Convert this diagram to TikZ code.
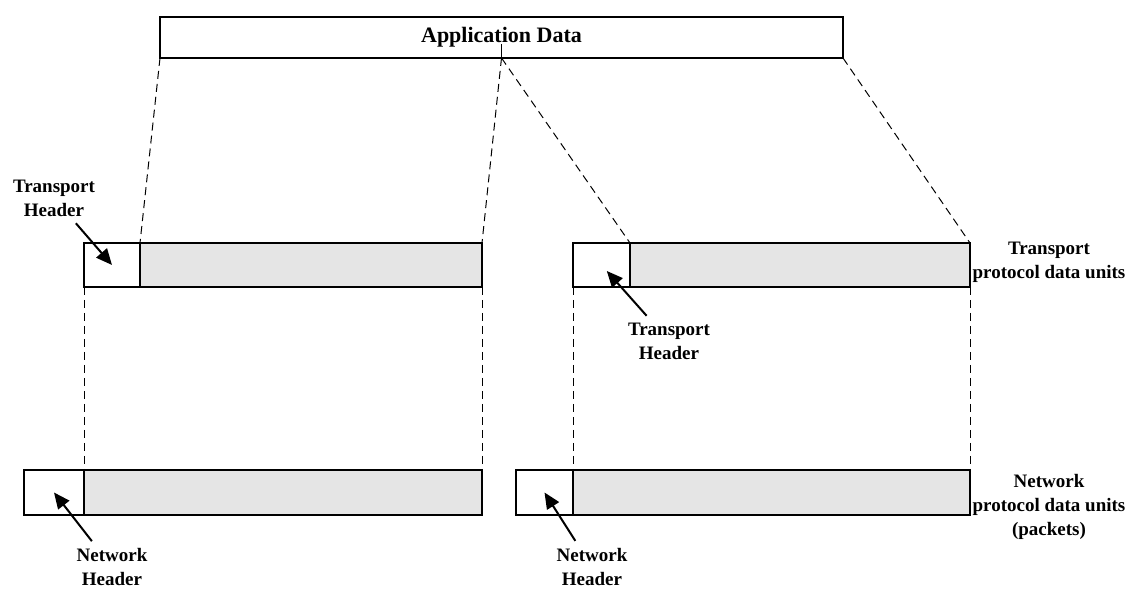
\documentclass[tikz,border=0pt]{standalone}
\usepackage{fontspec}
\setmainfont{Liberation Serif}
\usetikzlibrary{arrows.meta, positioning}

\begin{document}
\begin{tikzpicture}[
 x=0.5pt, y=0.5pt,
 pdu/.style={draw, line width=1.2pt, inner sep=0pt, outer sep=0pt, minimum height=22pt},
 hdr/.style={pdu, fill=white},
 payload/.style={pdu, fill=black!10},
 lbl/.style={font=\bfseries\fontsize{9.5}{12}\selectfont, align=center, inner sep=1pt},
 guide/.style={line width=0.5pt, dash pattern=on 4pt off 2.5pt},
 arrow/.style={line width=1pt, -{Triangle[length=8pt,width=7pt]}},
 ]
 \useasboundingbox (0,0) rectangle (1132,590);

 \node[pdu, minimum width=341.5pt, minimum height=20.5pt,
  font=\bfseries\fontsize{11}{13}\selectfont] (app) at (501.5,552.5) {Application Data};
 \coordinate (split) at (app.south);

 % transport PDUs
 \node[hdr, minimum width=28pt] (th1) at (112,325) {};
 \node[payload, minimum width=171pt, right=0pt of th1] (td1) {};
 \node[hdr, minimum width=28.5pt] (th2) at (601.5,325) {};
 \node[payload, minimum width=170pt, right=0pt of th2] (td2) {};

 % network PDUs
 \node[hdr, minimum width=30pt, minimum height=22.5pt,
  below left=91.5pt and 0pt of th1.south west] (nh1) {};
 \node[payload, minimum width=199pt, minimum height=22.5pt, right=0pt of nh1] (nd1) {};
 \node[hdr, minimum width=28.5pt, minimum height=22.5pt,
  below left=91.5pt and 0pt of th2.south west] (nh2) {};
 \node[payload, minimum width=198.5pt, minimum height=22.5pt, right=0pt of nh2] (nd2) {};

 \node[lbl] (thlab1) at (54,392) {Transport\\Header};
 \node[lbl] (thlab2) at (669,249) {Transport\\Header};
 \node[lbl] (nhlab1) at (112,23) {Network\\Header};
 \node[lbl] (nhlab2) at (592,23) {Network\\Header};
 \node[lbl, align=center] (tlab) at (1049,328) {Transport\\protocol data units};
 \node[lbl, align=center] (nlab) at (1049,83) {Network\\protocol data units\\(packets)};

 \draw[guide] (app.south west) -- (td1.north west);
 \draw[guide] (split) -- (td1.north east);
 \draw[guide] (split) -- (td2.north west);
 \draw[guide] (app.south east) -- (td2.north east);
 \draw[line width=0.6pt] (split) -- ++(0,14);

 \draw[guide] (th1.south west) -- (nd1.north west);
 \draw[guide] (td1.south east) -- (nd1.north east);
 \draw[guide] (th2.south west) -- (nd2.north west);
 \draw[guide] (td2.south east) -- (nd2.north east);

 \draw[arrow, shorten <=3pt] (thlab1) -- (th1.center);
 \draw[arrow, shorten <=3pt, shorten >=4pt] (thlab2) -- (th2.center);
 \draw[arrow, shorten <=3pt] (nhlab1) -- (nh1.center);
 \draw[arrow, shorten <=3pt] (nhlab2) -- (nh2.center);

\end{tikzpicture}
\end{document}
